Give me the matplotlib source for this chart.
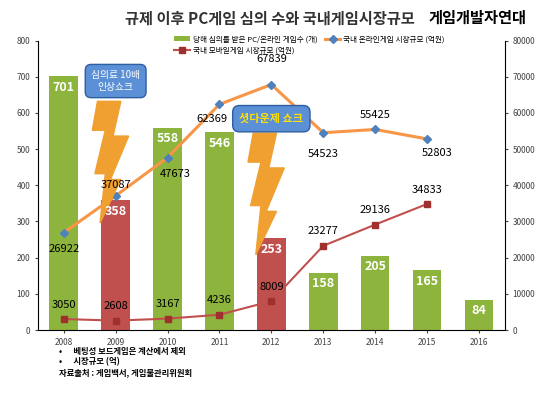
import matplotlib
matplotlib.use('Agg')
from matplotlib import pyplot as plt
from matplotlib.patches import Polygon
import numpy as np

plt.rcParams['font.family'] = ['Noto Sans CJK KR', 'DejaVu Sans']

years = ['2008', '2009', '2010', '2011', '2012', '2013', '2014', '2015', '2016']
games = [701, 358, 558, 546, 253, 158, 205, 165, 84]
red_years = ['2009', '2012']
online = [26922, 37087, 47673, 62369, 67839, 54523, 55425, 52803]
mobile = [3050, 2608, 3167, 4236, 8009, 23277, 29136, 34833]

green = '#8db43c'
red = '#c0504d'
x = np.arange(len(years))
colors = [red if y in red_years else green for y in years]

fig = plt.figure(figsize=(5.4, 4.05), dpi=100)
ax = fig.add_axes([0.07, 0.185, 0.865, 0.715])
ax2 = ax.twinx()

ax.bar(x, games, width=0.55, color=colors, label='당해 심의를 받은 PC/온라인 게임수 (개)', zorder=2)
# bar labels drawn on ax2 so everything on top shares one layer
for xi, v in zip(x, games):
    ax2.text(xi, v * 100 - 1200, str(v), ha='center', va='top', color='white', fontsize=9,
             fontweight='bold', zorder=5)

xl = x[:len(online)]
ax2.plot(xl, online, color='#f79646', lw=2.2, marker='D', ms=4, mfc='#4f81bd', mec='#4f81bd',
         label='국내 온라인게임 시장규모 (억원)', zorder=3)
ax2.plot(xl, mobile, color='#c0504d', lw=1.5, marker='s', ms=4, mfc='#a0302d', mec='#a0302d',
         label='국내 모바일게임 시장규모 (억원)', zorder=3)
dx = [0, 0, 0.15, -0.15, 0, 0, 0, 0.2]
dy = [-4500, 3000, -4500, -4000, 7000, -6000, 4000, -4000]
for xi, v, ox, oy in zip(xl, online, dx, dy):
    ax2.text(xi + ox, v + oy, str(v), ha='center', va='center', fontsize=8, zorder=6)
for xi, v in zip(xl, mobile):
    ax2.text(xi, v + 4000, str(v), ha='center', va='center', fontsize=8, zorder=6)

ax.set_ylim(0, 800)
ax.set_yticks(range(0, 801, 100))
ax2.set_ylim(0, 80000)
ax2.set_yticks(range(0, 80001, 10000))
ax.set_xlim(-0.5, len(years) - 0.5)
ax.set_xticks(x)
ax.set_xticklabels(years)
for a in (ax, ax2):
    a.tick_params(labelsize=6, length=2, colors='#444444')
    for s in a.spines.values():
        s.set_visible(False)
ax.spines['left'].set_visible(True)
ax2.spines['right'].set_visible(True)
ax.spines['bottom'].set_visible(True)

# lightning bolts
for cx, top in [(1.0, 0.79), (4.0, 0.68)]:
    pts = [(cx - 0.35, top), (cx + 0.1, top), (cx - 0.05, top - 0.12), (cx + 0.25, top - 0.12),
           (cx - 0.1, top - 0.27), (cx + 0.1, top - 0.27), (cx - 0.3, top - 0.42),
           (cx - 0.2, top - 0.25), (cx - 0.4, top - 0.25), (cx - 0.2, top - 0.1), (cx - 0.45, top - 0.1)]
    ax2.add_patch(Polygon(pts, closed=True, color='#f0a030', transform=ax2.get_xaxis_transform(), zorder=4))
ax2.text(1.0, 0.86, '심의료 10배\n인상쇼크', transform=ax2.get_xaxis_transform(), ha='center', va='center',
         fontsize=7, color='white', zorder=7,
         bbox=dict(boxstyle='round,pad=0.6', fc='#5b8fd6', ec='#2f5fa0'))
ax2.text(4.0, 0.73, '셧다운제 쇼크', transform=ax2.get_xaxis_transform(), ha='center', va='center',
         fontsize=8, color='#ffe000', fontweight='bold', zorder=7,
         bbox=dict(boxstyle='round,pad=0.6', fc='#5b8fd6', ec='#2f5fa0'))

h1, l1 = ax.get_legend_handles_labels()
h2, l2 = ax2.get_legend_handles_labels()
fig.legend([h1[0], h2[1], h2[0]], [l1[0], l2[1], l2[0]], loc='upper left', bbox_to_anchor=(0.31, 0.93),
           ncol=2, fontsize=5.5, frameon=False, handlelength=2, columnspacing=1, handletextpad=0.4)

fig.text(0.5, 0.955, '규제 이후 PC게임 심의 수와 국내게임시장규모', ha='center', va='center',
         fontsize=11, fontweight='bold', color='#333333')
fig.text(0.885, 0.955, '게임개발자연대', ha='center', va='center', fontsize=11, fontweight='bold',
         color='black', style='italic')
fig.text(0.11, 0.125, '•      베팅성 보드게임은 계산에서 제외', fontsize=6, fontweight='bold')
fig.text(0.11, 0.1, '•      시장규모 (억)', fontsize=6, fontweight='bold')
fig.text(0.11, 0.073, '자료출처 : 게임백서, 게임물관리위원회', fontsize=6, fontweight='bold')

fig.savefig('out.png')
